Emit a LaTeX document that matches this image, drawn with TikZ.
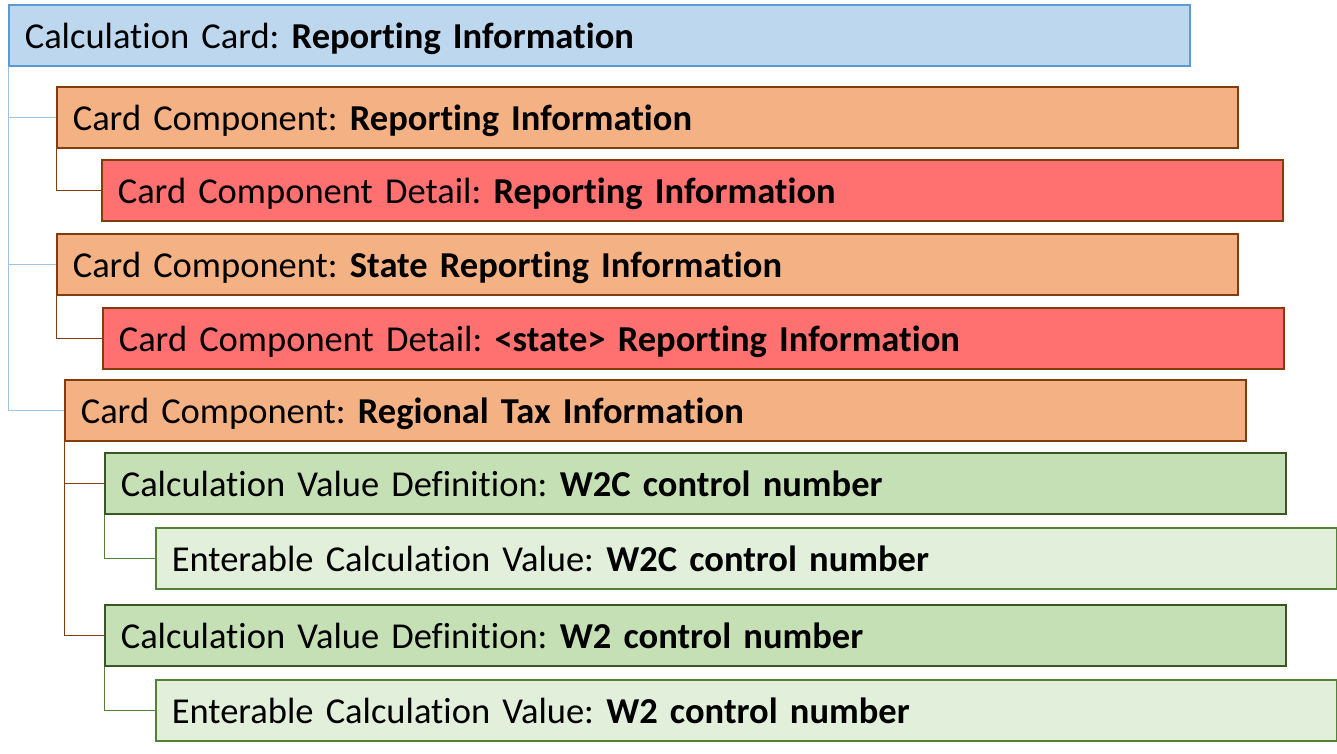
\documentclass[tikz,border=0pt]{standalone}
\usepackage{fontspec}
\setmainfont{Carlito}[Ligatures=NoCommon]
\usepackage{tikz}

\definecolor{cardfill}{HTML}{BDD7EE}
\definecolor{carddraw}{HTML}{5B9BD5}
\definecolor{cardlink}{HTML}{9DC3E6}
\definecolor{compfill}{HTML}{F4B183}
\definecolor{compdraw}{HTML}{843C0C}
\definecolor{detfill}{HTML}{FF7171}
\definecolor{cvdfill}{HTML}{C5E0B4}
\definecolor{cvddraw}{HTML}{385723}
\definecolor{ecvfill}{HTML}{E2EFDA}
\definecolor{ecvdraw}{HTML}{538135}

\tikzset{
  box/.style={anchor=north west, line width=1.6pt, minimum height=61pt,
    text width=1149pt, inner xsep=16pt, inner ysep=0pt, align=left,
    text depth=0pt, font=\fontsize{36.5}{42}\selectfont\frenchspacing},
  cardbox/.style={box, fill=cardfill, draw=carddraw},
  compbox/.style={box, fill=compfill, draw=compdraw},
  detbox/.style={box, fill=detfill, draw=compdraw},
  cvdbox/.style={box, fill=cvdfill, draw=cvddraw},
  ecvbox/.style={box, fill=ecvfill, draw=ecvdraw},
  link/.style={line width=1pt}
}

\begin{document}
\begin{tikzpicture}[x=1pt,y=-1pt]
            \useasboundingbox (0,0) rectangle (1337,754);

            %boxes
            \node[cardbox] (card) at (8,4) {Calculation Card: \textbf{Reporting Information}};
            \node[compbox] (comp1) at (56,86) {Card Component: \textbf{Reporting Information}};
            \node[detbox] (det1) at (101,159) {Card Component Detail: \textbf{Reporting Information}};
            \node[compbox] (comp2) at (56,233) {Card Component: \textbf{State Reporting Information}};
            \node[detbox] (det2) at (102,307) {Card Component Detail: \textbf{<state> Reporting Information}};
            \node[compbox] (comp3) at (64,379) {Card Component: \textbf{Regional Tax Information}};
            \node[cvdbox] (cvd1) at (104,452) {Calculation Value Definition: \textbf{W2C control number}};
            \node[ecvbox] (ecv1) at (155,527) {Enterable Calculation Value: \textbf{W2C control number}};
            \node[cvdbox] (cvd2) at (104,604) {Calculation Value Definition: \textbf{W2 control number}};
            \node[ecvbox] (ecv2) at (155,679) {Enterable Calculation Value: \textbf{W2 control number}};

            %links
            \foreach \c in {comp1,comp2,comp3}
                \draw[link, cardlink] (card.south west) |- (\c.west);
            \draw[link, compdraw] (comp1.south west) |- (det1.west);
            \draw[link, compdraw] (comp2.south west) |- (det2.west);
            \foreach \c in {cvd1,cvd2}
                \draw[link, compdraw] (comp3.south west) |- (\c.west);
            \draw[link, ecvdraw] (cvd1.south west) |- (ecv1.west);
            \draw[link, ecvdraw] (cvd2.south west) |- (ecv2.west);
\end{tikzpicture}
\end{document}
